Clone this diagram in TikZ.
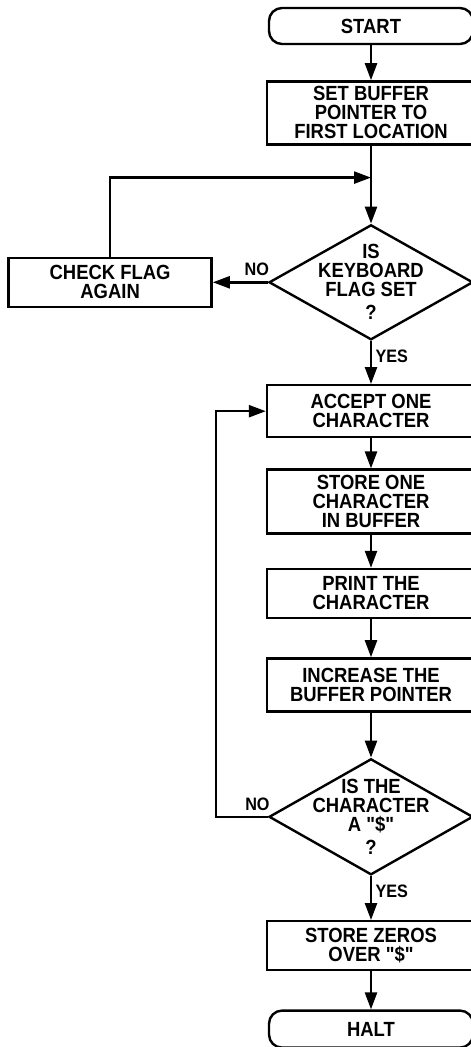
\documentclass[tikz,border=0pt]{standalone}
\usepackage{fontspec}
\setmainfont{Liberation Sans}[FakeStretch=0.9, Ligatures=TeXOff]
\usetikzlibrary{arrows.meta, positioning, shapes.geometric}

\begin{document}
\begin{tikzpicture}[
  x=1pt, y=1pt,
  line width=2.4pt,
  font={\bfseries\fontsize{20.5}{19}\selectfont},
  term/.style={draw, rounded corners=13pt, minimum width=204pt, minimum height=36pt, inner sep=0pt},
  proc/.style={draw, minimum width=208pt, inner sep=1pt, align=center},
  decide/.style={diamond, draw, minimum width=204pt, minimum height=115pt, inner sep=0pt},
  edge/.style={-{Triangle[length=17pt, width=12pt]}},
  lbl/.style={font={\bfseries\fontsize{18}{20}\selectfont}}
]
\useasboundingbox (0,0) rectangle (471,-1047);

\node[term] (start) at (371,-26) {START};
\node[proc, minimum height=63pt, below=35pt of start] (setptr) {SET BUFFER\\POINTER TO\\FIRST LOCATION};
\node[decide, below=78pt of setptr] (flag) {};
\node[align=center] (flagq) at (flag) {IS\\KEYBOARD\\FLAG SET\\[4pt]?};
\node[proc, minimum width=203pt, minimum height=49pt, left=55pt of flag] (check) {CHECK FLAG\\AGAIN};
\node[proc, minimum height=52pt, below=43pt of flag] (accept) {ACCEPT ONE\\CHARACTER};
\node[proc, minimum height=64pt, below=30pt of accept] (store) {STORE ONE\\CHARACTER\\IN BUFFER};
\node[proc, minimum height=49pt, below=33pt of store] (print) {PRINT THE\\CHARACTER};
\node[proc, minimum height=53pt, below=38pt of print] (incr) {INCREASE THE\\BUFFER POINTER};
\node[decide, minimum height=116pt, below=45pt of incr] (dollar) {};
\node[align=center] (dollarq) at (dollar) {IS THE\\CHARACTER\\A "\$"\\[4pt]?};
\node[proc, minimum height=49pt, below=44pt of dollar] (zeros) {STORE ZEROS\\OVER "\$"};
\node[term, minimum height=37pt, below=38pt of zeros] (halt) {HALT};

\coordinate[below=32pt of setptr.south] (merge);
\coordinate[left=52pt of dollar.west] (back);

\draw[edge] (start) -- (setptr);
\draw[edge] (setptr) -- (flag);
\draw[edge] (flag.west) -- node[lbl, above=2pt, pos=0.2] {NO} (check.east);
\draw[edge] (check) |- (merge);
\draw[edge] (flag) -- node[lbl, right, pos=0.35] {YES} (accept);
\draw[edge] (accept) -- (store);
\draw[edge] (store) -- (print);
\draw[edge] (print) -- (incr);
\draw[edge] (incr) -- (dollar);
\draw[edge] (dollar.west) -- node[lbl, above=2pt, pos=0.2] {NO} (back) |- (accept);
\draw[edge] (dollar) -- node[lbl, right, pos=0.34] {YES} (zeros);
\draw[edge] (zeros) -- (halt);
\end{tikzpicture}
\end{document}
